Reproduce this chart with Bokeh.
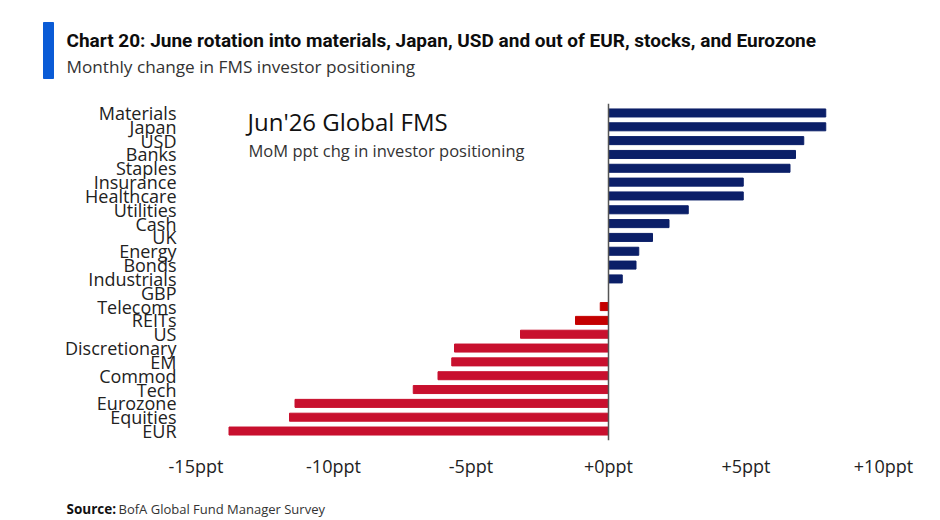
from bokeh.plotting import figure
from bokeh.layouts import column, row
from bokeh.models import (FactorRange, Range1d, Span, Label,
                          FixedTicker, ColumnDataSource)
from bokeh.core.properties import value
from bokeh.embed import file_html
from bokeh.resources import INLINE

# Monthly change in investor positioning (ppt), top to bottom
categories = ["Materials", "Japan", "USD", "Banks", "Staples", "Insurance",
              "Healthcare", "Utilities", "Cash", "UK", "Energy", "Bonds",
              "Industrials", "GBP", "Telecoms", "REITs", "US", "Discretionary",
              "EM", "Commod", "Tech", "Eurozone", "Equities", "EUR"]
changes = [7.9, 7.9, 7.1, 6.8, 6.6, 4.9, 4.9, 2.9, 2.2, 1.6, 1.1, 1.0,
           0.5, 0.0, -0.3, -1.2, -3.2, -5.6, -5.7, -6.2, -7.1, -11.4,
           -11.6, -13.8]
tick_values = [-15, -10, -5, 0, 5, 10]
tick_labels = ["-15ppt", "-10ppt", "-5ppt", "+0ppt", "+5ppt", "+10ppt"]

TITLE = "Chart 20: June rotation into materials, Japan, USD and out of EUR, stocks, and Eurozone"
SUBTITLE = "Monthly change in FMS investor positioning"

NAVY = "#0b1f68"
RED = "#c8102e"
BRIGHT_RED = "#c40000"
small_negatives = {"Telecoms", "REITs"}

colors = []
for c, v in zip(categories, changes):
    if v >= 0:
        colors.append(NAVY)
    elif c in small_negatives:
        colors.append(BRIGHT_RED)
    else:
        colors.append(RED)

source = ColumnDataSource(dict(cat=categories, val=changes, color=colors))

W = 940
HEAD_H, MAIN_H, FOOT_H = 85, 405, 30


def text_panel(height):
    """A blank strip whose data coordinates are pixels from its top-left."""
    f = figure(width=W, height=height, x_range=Range1d(0, W),
               y_range=Range1d(height, 0), x_axis_type=None,
               y_axis_type=None, output_backend="svg",
               toolbar_location=None, min_border=0)
    f.outline_line_color = None
    f.grid.grid_line_color = None
    return f


# ---- header ----
head = text_panel(HEAD_H)
head.quad(left=[43], right=[53], top=[22], bottom=[78], color="#0a5bd6")
head.text(x=[66], y=[40], text=[TITLE], text_font=value("Roboto"),
          text_font_style="bold", text_font_size="19px", text_color="#0d0d0d",
          text_baseline="middle")
head.text(x=[66], y=[66], text=[SUBTITLE], text_font=value("Open Sans"),
          text_font_size="17.2px", text_color="#333333", text_baseline="middle")

# ---- main bar chart ----
LEFT, RIGHT, TOP, BOTTOM = 182, 20, 18, 50
FW, FH = W - LEFT - RIGHT, MAIN_H - TOP - BOTTOM
PX_PER_PPT = 27.5
x_start = -15 - (195.5 - LEFT) / PX_PER_PPT
x_end = x_start + FW / PX_PER_PPT

p = figure(width=W, height=MAIN_H, frame_width=FW, frame_height=FH,
           y_range=FactorRange(factors=list(reversed(categories)),
                               range_padding=0.185,
                               range_padding_units="absolute"),
           x_range=Range1d(x_start, x_end),
           output_backend="svg", toolbar_location=None,
           min_border_left=LEFT, min_border_right=RIGHT,
           min_border_top=TOP, min_border_bottom=BOTTOM)

p.hbar(y="cat", left=0, right="val", height=0.58, color="color",
       source=source)

p.add_layout(Span(location=0, dimension="height", line_color="#555555",
                  line_width=1.5))

p.outline_line_color = None
p.xgrid.grid_line_color = None
p.ygrid.grid_line_color = None

p.xaxis.ticker = FixedTicker(ticks=tick_values)
p.xaxis.major_label_overrides = {t: s for t, s in zip(tick_values, tick_labels)}
p.xaxis.axis_line_color = None
p.xaxis.major_tick_line_color = None
p.xaxis.minor_tick_line_color = None
p.xaxis.major_label_standoff = 7
p.xaxis.major_label_text_font = "Open Sans"
p.xaxis.major_label_text_font_size = "18px"
p.xaxis.major_label_text_color = "#222222"

p.yaxis.axis_line_color = None
p.yaxis.major_tick_line_color = None
p.yaxis.minor_tick_line_color = None
p.yaxis.major_label_standoff = 0
p.yaxis.major_label_text_font = "Open Sans"
p.yaxis.major_label_text_font_size = "18px"
p.yaxis.major_label_text_color = "#222222"

# in-chart caption (screen units are relative to the frame's bottom-left)
p.add_layout(Label(x=247 - LEFT, y=FH - 18, x_units="screen", y_units="screen",
                   text="Jun'26 Global FMS", text_font="Open Sans",
                   text_font_size="24px", text_color="#111111",
                   text_baseline="middle"))
p.add_layout(Label(x=248 - LEFT, y=FH - 47, x_units="screen", y_units="screen",
                   text="MoM ppt chg in investor positioning",
                   text_font="Open Sans", text_font_size="16.5px",
                   text_color="#333333", text_baseline="middle"))

# ---- footer ----
foot = text_panel(FOOT_H)
foot.text(x=[66], y=[18], text=["Source:"], text_font=value("Open Sans"),
          text_font_style="bold", text_font_size="13.5px", text_color="#111111",
          text_baseline="middle")
foot.text(x=[118], y=[18], text=["BofA Global Fund Manager Survey"],
          text_font=value("Open Sans"), text_font_size="13px",
          text_color="#333333", text_baseline="middle")

layout = column(row(head), row(p), row(foot), spacing=0)
open("out.html", "w").write(file_html(layout, INLINE))
